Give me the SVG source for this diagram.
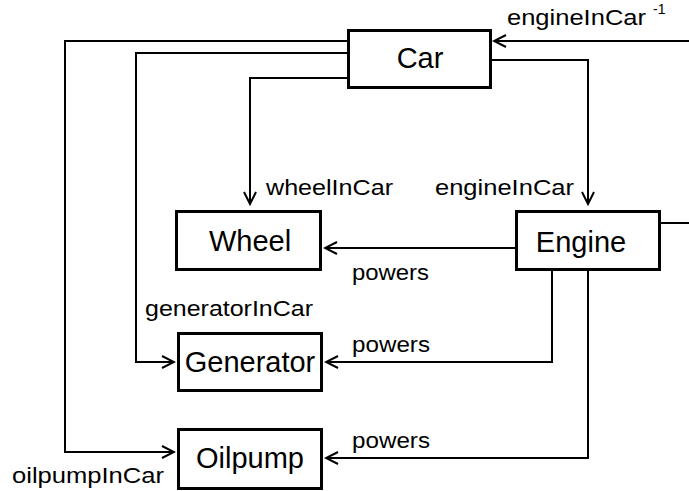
<svg xmlns="http://www.w3.org/2000/svg" width="689" height="491" viewBox="0 0 689 491">
<style>
.box{fill:#fff;stroke:#000;stroke-width:3}
.node{font-family:"Liberation Sans",Arial,sans-serif;font-size:29px;fill:#000;text-anchor:middle}
.lbl{font-family:"Liberation Sans",Arial,sans-serif;font-size:22px;fill:#000}
.sup{font-family:"Liberation Sans",Arial,sans-serif;font-size:14px;fill:#000}
.edge{fill:none;stroke:#000;stroke-width:2}
</style>
<defs>
<marker id="arr" markerUnits="userSpaceOnUse" markerWidth="16" markerHeight="16" viewBox="-14 -8 16 16" refX="0" refY="0" orient="auto">
<path d="M-12,-6 L0,0 L-12,6" fill="none" stroke="#000" stroke-width="2"/>
</marker>
</defs>
<rect width="689" height="491" fill="#fff"/>
<g id="connectors">
<path class="edge" d="M347,78 H250 V204" marker-end="url(#arr)"/>
<path class="edge" d="M492,60 H588 V204" marker-end="url(#arr)"/>
<path class="edge" d="M347,53 H136 V362 H174" marker-end="url(#arr)"/>
<path class="edge" d="M347,41 H65 V452 H174" marker-end="url(#arr)"/>
<path class="edge" d="M515,248 H325" marker-end="url(#arr)"/>
<path class="edge" d="M552,271 V362 H326" marker-end="url(#arr)"/>
<path class="edge" d="M588,271 V458 H326" marker-end="url(#arr)"/>
<path class="edge" d="M661,223 H700 V41 H494" marker-end="url(#arr)"/>
<text class="lbl" x="507" y="25" textLength="139" lengthAdjust="spacingAndGlyphs">engineInCar</text>
<text class="sup" x="653" y="14">-1</text>
<text class="lbl" x="266" y="195" textLength="127" lengthAdjust="spacingAndGlyphs">wheelInCar</text>
<text class="lbl" x="435" y="195" textLength="139" lengthAdjust="spacingAndGlyphs">engineInCar</text>
<text class="lbl" x="352" y="280" textLength="77" lengthAdjust="spacingAndGlyphs">powers</text>
<text class="lbl" x="145" y="316" textLength="168" lengthAdjust="spacingAndGlyphs">generatorInCar</text>
<text class="lbl" x="352" y="352" textLength="78" lengthAdjust="spacingAndGlyphs">powers</text>
<text class="lbl" x="352" y="448" textLength="78" lengthAdjust="spacingAndGlyphs">powers</text>
<text class="lbl" x="12" y="483" textLength="152" lengthAdjust="spacingAndGlyphs">oilpumpInCar</text>
</g>
<g id="car">
<rect class="box" x="348.5" y="30.5" width="142" height="57"/>
<text class="node" x="420" y="68">Car</text>
</g>
<g id="wheel">
<rect class="box" x="176.5" y="211.5" width="144" height="58"/>
<text class="node" x="250" y="251">Wheel</text>
</g>
<g id="engine">
<rect class="box" x="516.5" y="211.5" width="143" height="58"/>
<text class="node" x="581" y="252">Engine</text>
</g>
<g id="generator">
<rect class="box" x="178.5" y="333.5" width="143" height="57"/>
<text class="node" x="250" y="372">Generator</text>
</g>
<g id="oilpump">
<rect class="box" x="178.5" y="429.5" width="143" height="59"/>
<text class="node" x="250" y="468">Oilpump</text>
</g>
</svg>
